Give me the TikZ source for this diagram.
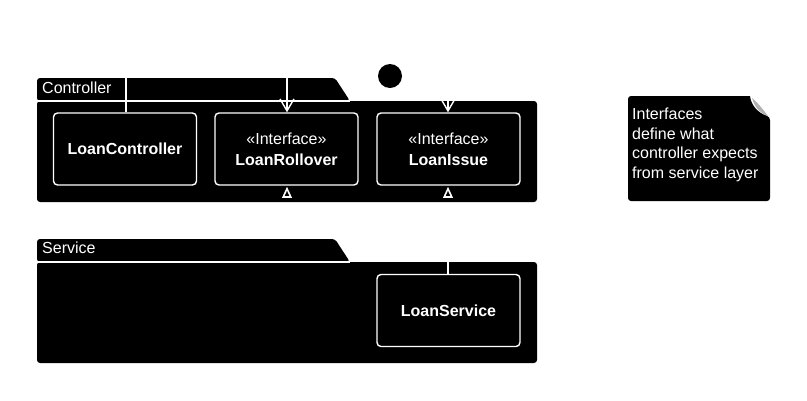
\documentclass[tikz,border=0pt]{standalone}
\usepackage{fontspec}
\setmainfont{Liberation Sans}
\usetikzlibrary{arrows.meta}
\tikzstyle{package}=[fill=black,rounded corners=3pt]
\tikzstyle{classbox}=[rectangle,draw=white,fill=black,text=white,line width=1.4pt,rounded corners=4pt,minimum width=143pt,minimum height=72pt,align=center,font=\fontsize{16}{21}\selectfont]
\tikzstyle{pkglabel}=[text=white,anchor=west,inner sep=0pt,font=\fontsize{16}{18}\selectfont]
\tikzstyle{link}=[draw=white,line width=1.4pt]
\tikzstyle{uses}=[link,-{Straight Barb[length=12pt,width=14pt,line width=1.4pt]}]
\tikzstyle{realize}=[draw=white,line width=1.6pt,line join=miter]

\begin{document}
\begin{tikzpicture}[x=1pt,y=-1pt]
      \useasboundingbox[fill=white] (0,0) rectangle (807,400);

      % controller package
      \fill [package] (37,101) -- (37,78) -- (335,78) -- (350,101) -- cycle;
      \fill [package] (37,101) rectangle (537,202);
      \draw [white,line width=1.4pt] (37,101) -- (350,101);
      \node [pkglabel] (ctrllabel) at (42,88) {Controller};
      \fill (390,76) circle (12);

      \node [classbox] (controller) at (125,149) {\textbf{LoanController}};
      \node [classbox] (rollover) at (286.5,149) {«Interface»\\\textbf{LoanRollover}};
      \node [classbox] (issue) at (448.5,149) {«Interface»\\\textbf{LoanIssue}};

      \coordinate (ctrltop) at (126,78);
      \coordinate (rolltop) at (287,78);
      \coordinate (issuetop) at (448,101);
      \coordinate (rolltip) at (287,197);
      \coordinate (issuetip) at (448,197);
      \draw [link] (ctrltop) -- (controller.north -| ctrltop);
      \draw [uses] (rolltop) -- (rollover.north -| rolltop);
      \draw [uses] (issuetop) -- (issue.north -| issuetop);
      \draw [realize] ([xshift=-3.8pt]rolltip) -- ([yshift=-3pt]rollover.south -| rolltip) -- ([xshift=3.8pt]rolltip) -- cycle;
      \draw [realize] ([xshift=-3.8pt]issuetip) -- ([yshift=-3pt]issue.south -| issuetip) -- ([xshift=3.8pt]issuetip) -- cycle;

      % service package
      \fill [package] (37,262) -- (37,239) -- (335,239) -- (350,262) -- cycle;
      \fill [package] (37,262) rectangle (537,363);
      \draw [white,line width=1.4pt] (37,262) -- (350,262);
      \node [pkglabel] (servlabel) at (42,248) {Service};

      \node [classbox] (service) at (448.5,310.5) {\textbf{LoanService}};
      \coordinate (servtop) at (448,262);
      \draw [link] (servtop) -- (service.north -| servtop);

      % note
      \fill [rounded corners=3pt] (750,96) -- (628,96) -- (628,201) -- (770,201) -- (770,117) [sharp corners] .. controls (756,112) and (751,104) .. (750,96);
      \fill [gray!60] (752,98) .. controls (755,108) and (760,113) .. (768,116) .. controls (762,108) and (757,102) .. (752,98) -- cycle;
      \node [text=white,anchor=north west,align=left,inner sep=0pt,font=\fontsize{16}{19.5}\selectfont] (note) at (632,108) {Interfaces\\define what\\controller expects\\from service layer};
\end{tikzpicture}
\end{document}
